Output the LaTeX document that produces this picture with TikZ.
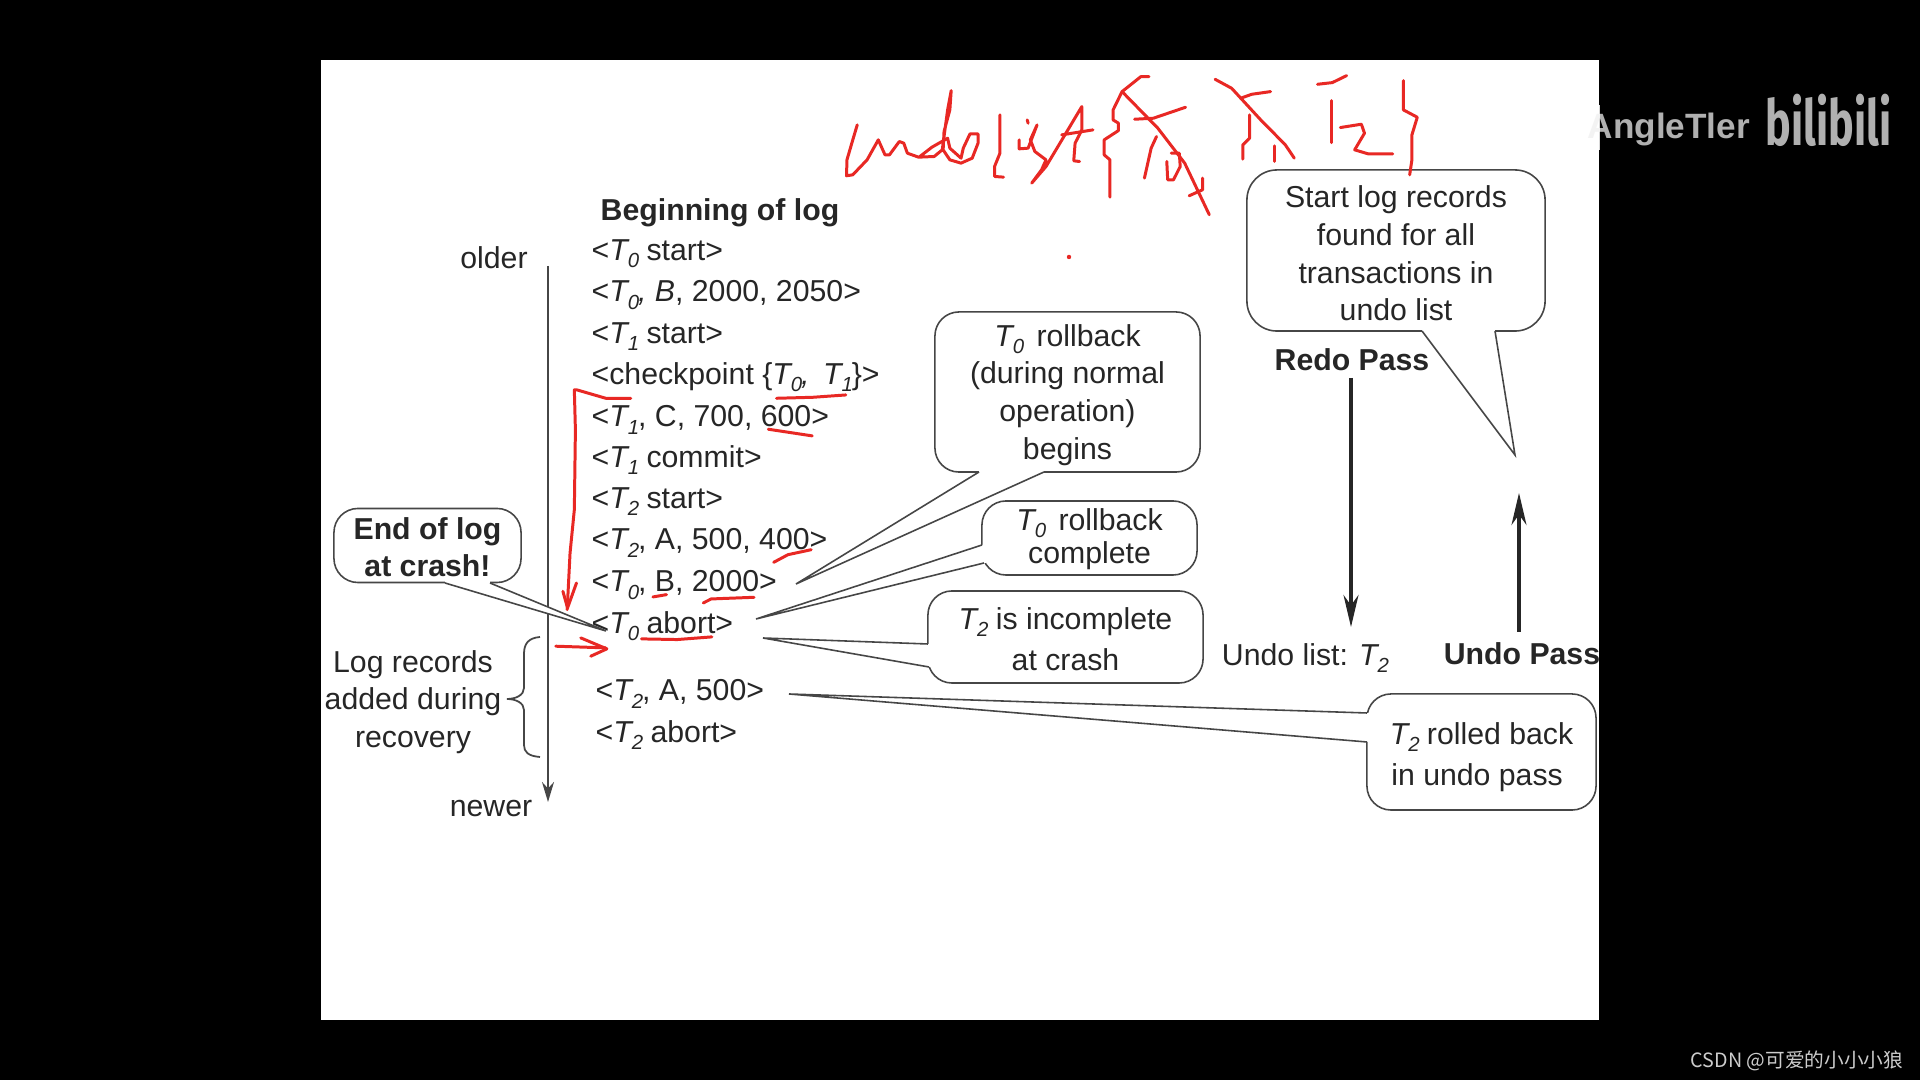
\documentclass[tikz,border=0pt]{standalone}
\usepackage{fontspec}
\setmainfont{Liberation Sans}
\newfontfamily\cjk{Noto Sans CJK SC}
\newfontfamily\bilifont{Fira Sans}
\usepackage{xcolor}
\definecolor{inkred}{RGB}{232,40,36}
\definecolor{printgray}{RGB}{70,70,70}
\definecolor{marktext}{RGB}{176,176,176}
\usetikzlibrary{arrows.meta}
\newcommand{\Tx}[1]{\textit{T}\kern-0.5pt\raisebox{-0.45ex}{\fontsize{5.8}{7}\selectfont\textit{#1}}\kern-0.3pt\relax}
\newcommand{\dropby}[1]{\rule{0pt}{#1}}
\newcommand{\calltail}[3]{%
\draw[white,line width=1.2pt] (#1) -- (#3);
\draw[printgray,line width=0.45pt,fill=white,line join=miter] (#1) -- (#2) -- (#3);}
\tikzset{
  logline/.style={anchor=west,inner sep=0pt,text=black!85,font=\fontsize{8.6}{10.7}\selectfont},
  label/.style={inner sep=0pt,align=center,text=black!85,font=\fontsize{8.6}{10.7}\selectfont},
  boldlabel/.style={inner sep=0pt,align=center,text=black!85,font=\fontsize{8.6}{10.7}\selectfont\bfseries},
  callout/.style={draw=printgray,line width=0.45pt,rounded corners=0.24cm,inner sep=0pt,align=center,
    text=black!85,font=\fontsize{8.6}{10.7}\selectfont},
  redink/.style={inkred,line width=0.85pt,line join=round,line cap=round},
  passarrow/.style={black!85,line width=0.9pt,-{Stealth[length=0.32cm,width=0.15cm]}}
}
\begin{document}
\begin{tikzpicture}[x=0.01cm,y=-0.01cm]
\useasboundingbox (0,0) rectangle (1920,1080);
\fill[black] (0,0) rectangle (1920,1080);
\fill[white] (321,60) rectangle (1599,1020);
% log records
\node[boldlabel] (loghead) at (720,213) {Beginning of log};
\node[logline] (rec1) at (591,254) {<\Tx{0} start>};
\node[logline] (rec2) at (591,295) {<\Tx{0}\textit{, B}, 2000, 2050>};
\node[logline] (rec3) at (591,337) {<\Tx{1} start>};
\node[logline] (rec4) at (591,377) {<checkpoint \{\Tx{0}\textit{,}\, \Tx{1}\}>};
\node[logline] (rec5) at (591,420) {<\Tx{1}, C, 700, 600>};
\node[logline] (rec6) at (591,460) {<\Tx{1} commit>};
\node[logline] (rec7) at (591,502) {<\Tx{2} start>};
\node[logline] (rec8) at (591,543) {<\Tx{2}, A, 500, 400>};
\node[logline] (rec9) at (591,585) {<\Tx{0}, B, 2000>};
\node[logline] (rec10) at (591,626) {<\Tx{0} abort>};
\node[logline] (rec11) at (595,694) {<\Tx{2}, A, 500>};
\node[logline] (rec12) at (595,735) {<\Tx{2} abort>};
% time axis
\node[label] (older) at (494,258) {older};
\node[label] (newer) at (491,809) {newer};
\coordinate (axistop) at (548,266);
\coordinate (axisbot) at (548,802);
\draw[printgray,line width=0.55pt,-{Stealth[length=0.2cm,width=0.12cm]}] (axistop) -- (axisbot);
% recovery brace
\node[label] (added) at (413,702) {Log records\\added during\\recovery};
\coordinate (bracetop) at (540,637);
\coordinate (bracetip) at (507,699);
\coordinate (bracebot) at (540,757);
\draw[printgray,line width=0.5pt] (bracetop) .. controls (528,638) and (524,644) .. (524,654) -- (524,688)
    .. controls (524,695) and (516,699) .. (bracetip) .. controls (516,699) and (524,703) .. (524,710)
    -- (524,745) .. controls (524,752) and (528,756) .. (bracebot);
% callouts
\node[callout,font=\fontsize{8.6}{10.7}\selectfont\bfseries,minimum width=1.87cm,minimum height=0.74cm] (crash) at (427.5,545.5) {\dropby{7.3pt}End of log\\at crash!};
\coordinate (crashA) at (445,583);
\coordinate (crashtip) at (606,631);
\coordinate (crashB) at (490,583);
\calltail{crashA}{crashtip}{crashB}
\node[callout,minimum width=2.65cm,minimum height=1.6cm] (rollbegin) at (1067.5,392) {\dropby{7.9pt}\Tx{0}\, rollback\\(during normal\\operation)\\begins};
\coordinate (rollbeginA) at (979,472);
\coordinate (rollbegintip) at (796,584);
\coordinate (rollbeginB) at (1044,472);
\calltail{rollbeginA}{rollbegintip}{rollbeginB}
\node[callout,font=\fontsize{8.6}{9.4}\selectfont,minimum width=2.15cm,minimum height=0.74cm] (rolldone) at (1089.5,538) {\dropby{6.8pt}\Tx{0}\, rollback\\complete};
\coordinate (rolldoneA) at (982,545);
\coordinate (rolldonetip) at (756,619);
\coordinate (rolldoneB) at (984,563);
\calltail{rolldoneA}{rolldonetip}{rolldoneB}
\node[callout,font=\fontsize{8.6}{11.6}\selectfont,minimum width=2.75cm,minimum height=0.92cm] (incomplete) at (1065.5,637) {\dropby{7.6pt}\Tx{2} is incomplete\\at crash};
\coordinate (incompleteA) at (928,644);
\coordinate (incompletetip) at (763,638);
\coordinate (incompleteB) at (929,667);
\calltail{incompleteA}{incompletetip}{incompleteB}
\node[callout,font=\fontsize{8.6}{11.8}\selectfont,minimum width=2.29cm,minimum height=1.16cm] (rolledback) at (1481.5,752) {\dropby{9.1pt}\Tx{2} rolled back\\in undo pass\hspace*{2.5pt}};
\coordinate (rolledbackA) at (1367,713);
\coordinate (rolledbacktip) at (789,694);
\coordinate (rolledbackB) at (1367,742);
\calltail{rolledbackA}{rolledbacktip}{rolledbackB}
\node[callout,minimum width=2.98cm,minimum height=1.61cm,rounded corners=0.3cm] (startrec) at (1396,250.5) {\dropby{7.9pt}Start log records\\found for all\\transactions in\\undo list};
\coordinate (startrecA) at (1422,331);
\coordinate (startrectip) at (1515,455);
\coordinate (startrecB) at (1495,331);
\calltail{startrecA}{startrectip}{startrecB}
% passes
\node[boldlabel] (redo) at (1352,360) {Redo Pass};
\node[boldlabel] (undo) at (1522,654) {Undo Pass};
\node[label] (undolist) at (1305,658) {Undo list: \Tx{2}};
\coordinate (redostart) at (1351,378);
\coordinate (redoend) at (1351,627);
\coordinate (undostart) at (1519,632);
\coordinate (undoend) at (1519,493);
\draw[passarrow] (redostart) -- (redoend);
\draw[passarrow] (undostart) -- (undoend);
% handwriting on top
\begin{scope}[shift={(800,60)},x=0.004464cm,y=-0.003333cm]
\draw[redink] (128,195) -- (118,240) -- (105,300) -- (104,348) -- (118,345) -- (150,300) -- (175,240) -- (190,285)
    -- (200,285) -- (222,245) -- (232,250) -- (240,280) -- (265,292) -- (300,290) -- (318,270) -- (330,150)
    -- (338,92) -- (335,150) -- (322,215) -- (320,270) -- (335,300) -- (360,310) -- (385,295) -- (398,250)
    -- (398,222) -- (380,222) -- (365,265) -- (360,295) -- (335,265) -- (330,235) -- (295,262) -- (268,290);
\draw[redink] (447,165) -- (447,280) -- (435,320) -- (435,350) -- (455,352);
\draw[redink] (508,180) -- (510,190);
\draw[redink] (490,240) -- (490,267) -- (510,265) -- (530,195) -- (515,240) -- (525,275) -- (550,300) -- (540,330)
    -- (518,370) -- (550,320) -- (630,140) -- (630,210) -- (615,250) -- (612,303) -- (625,305);
\draw[redink] (585,225) -- (655,210);
\draw[redink] (780,50) -- (762,50) -- (720,95) -- (700,150) -- (700,180) -- (712,190) -- (712,212) -- (680,240)
    -- (680,285) -- (693,300) -- (693,412);
\draw[redink] (720,95) -- (800,205) -- (860,310) -- (915,465);
\draw[redink] (748,178) -- (790,175) -- (862,142);
\draw[redink] (797,230) -- (785,265) -- (770,355);
\draw[redink] (820,305) -- (822,360) -- (835,360) -- (850,320) -- (848,280) -- (830,280);
\draw[redink] (870,408) -- (900,390) -- (900,355);
\draw[redink] (928,58) -- (965,85) -- (1030,180) -- (1085,255) -- (1105,295);
\draw[redink] (985,115) -- (1010,103) -- (1052,95);
\draw[redink] (1005,165) -- (1005,235) -- (990,255) -- (990,298);
\draw[redink] (1060,258) -- (1060,305);
\draw[redink] (1157,73) -- (1190,68) -- (1222,47);
\draw[redink] (1188,122) -- (1188,248);
\draw[redink] (1208,203) -- (1255,193) -- (1262,220) -- (1240,270) -- (1270,282) -- (1325,282);
\draw[redink] (1349,62) -- (1349,150) -- (1380,172) -- (1368,225) -- (1368,300) -- (1363,345);
\end{scope}
\fill[inkred] (1069,257) circle (2.2);
\begin{scope}[shift={(320,370)},x=0.003571cm,y=-0.003333cm]
\draw[redink] (870,85) -- (800,85) -- (720,60) -- (712,60) -- (715,180) -- (712,420) -- (700,550) -- (692,720);
\draw[redink] (680,665) -- (693,715) -- (718,640);
\draw[redink] (1278,85) -- (1380,82) -- (1472,75);
\draw[redink] (1255,178) -- (1378,198);
\draw[redink] (1270,578) -- (1310,555) -- (1375,540);
\draw[redink] (932,682) -- (970,675);
\draw[redink] (1073,700) -- (1095,688) -- (1215,683);
\draw[redink] (900,808) -- (1000,810) -- (1097,802);
\draw[redink] (660,830) -- (800,835);
\draw[redink] (730,805) -- (803,838) -- (758,860);
\end{scope}
% watermarks
\node[anchor=west,inner sep=0pt,text=marktext,font=\fontsize{10}{12}\selectfont\bfseries] (channel) at (1587,129) {AngleTler};
\fill[white,opacity=0.85] (1585,105) rectangle (1600,150);
\node[anchor=west,inner sep=0pt,text=marktext,font=\bilifont\fontsize{18}{20}\selectfont\bfseries] (bili) at (1765,120) {\scalebox{0.68}[1]{bilibili}};
\node[anchor=east,inner sep=0pt,text=black!20,font=\cjk\fontsize{5.6}{7}\selectfont] (csdn) at (1904,1061) {CSDN @可爱的小小小狼};
\end{tikzpicture}
\end{document}
